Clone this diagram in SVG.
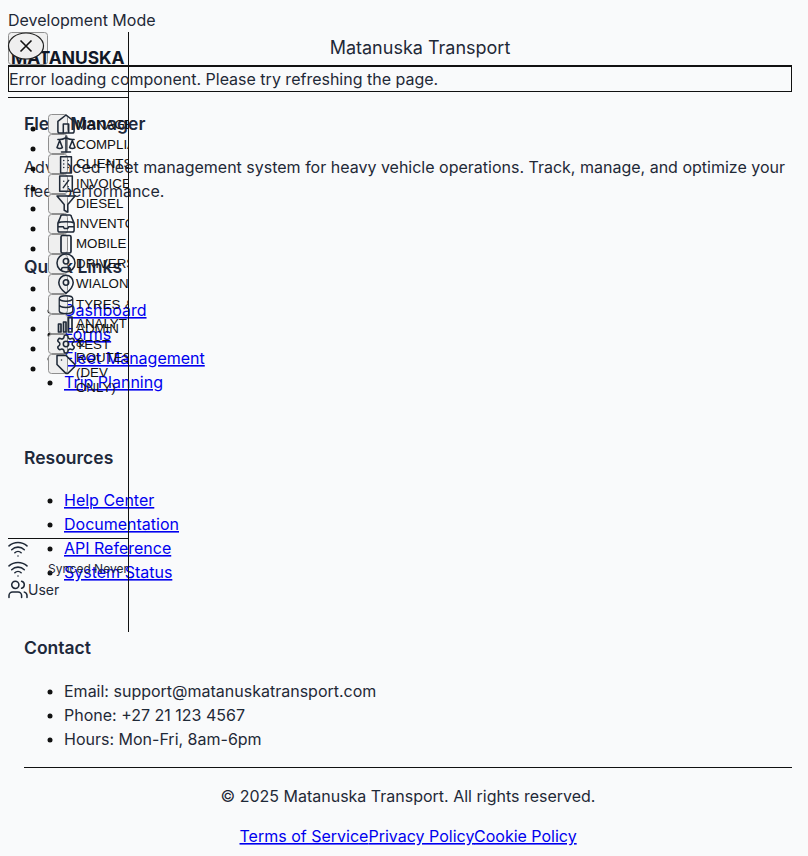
<svg xmlns="http://www.w3.org/2000/svg" width="808" height="856" viewBox="0 0 808 856">
<style>
text{font-family:Inter,"Liberation Sans",sans-serif;font-size:16px;fill:#1f2937}
.h{font-size:17.5px;font-weight:600;fill:#1e293b}
.a{fill:#0000ee;text-decoration:underline}
.n{font-family:"Liberation Sans",Arial,sans-serif;font-size:13.33px;fill:#111}
.b{fill:#efefef;stroke:#8f8f8f;stroke-width:1}
.i{fill:none;stroke:#1f2937;stroke-width:1.7;stroke-linecap:round;stroke-linejoin:round}
.l{stroke:#111;stroke-width:1;fill:none}
</style>
<defs>
<clipPath id="side"><rect x="0" y="0" width="128" height="856"/></clipPath>
<g id="wifi"><path class="i" d="M5 13a10 10 0 0 1 14 0M8.500 16.429a5 5 0 0 1 7 0M2 8.820a15 15 0 0 1 20 0M12 20h.01"/></g>
</defs>
<rect width="808" height="856" fill="#f9fafb"/>
<g id="page-content">
<text x="24" y="130" class="h">Fleet Manager</text>
<text x="24" y="173">Advanced fleet management system for heavy vehicle operations. Track, manage, and optimize your</text>
<text x="24" y="197">fleet performance.</text>
<text x="24" y="273" class="h">Quick Links</text>
<g fill="#111">
<circle cx="33" cy="129" r="2.500"/><circle cx="33" cy="149" r="2.500"/><circle cx="33" cy="169" r="2.500"/><circle cx="33" cy="189" r="2.500"/><circle cx="33" cy="209" r="2.500"/><circle cx="33" cy="229" r="2.500"/><circle cx="33" cy="249" r="2.500"/><circle cx="33" cy="289" r="2.500"/><circle cx="33" cy="309" r="2.500"/><circle cx="33" cy="329" r="2.500"/><circle cx="33" cy="349" r="2.500"/><circle cx="33" cy="369" r="2.500"/>
<circle cx="50" cy="311" r="2.500"/><circle cx="50" cy="335" r="2.500"/><circle cx="50" cy="359" r="2.500"/><circle cx="50" cy="383" r="2.500"/>
<circle cx="50" cy="501" r="2.500"/><circle cx="50" cy="525" r="2.500"/><circle cx="50" cy="549" r="2.500"/><circle cx="50" cy="573" r="2.500"/>
<circle cx="50" cy="692" r="2.500"/><circle cx="50" cy="716" r="2.500"/><circle cx="50" cy="740" r="2.500"/>
</g>
<text x="64" y="316" class="a">Dashboard</text>
<text x="64" y="340" class="a">Forms</text>
<text x="64" y="364" class="a">Fleet Management</text>
<text x="64" y="388" class="a">Trip Planning</text>
<text x="24" y="464" class="h">Resources</text>
<text x="64" y="506" class="a">Help Center</text>
<text x="64" y="530" class="a">Documentation</text>
<text x="64" y="554" class="a">API Reference</text>
<text x="64" y="578" class="a">System Status</text>
<text x="24" y="654" class="h">Contact</text>
<text x="64" y="697">Email: support@matanuskatransport.com</text>
<text x="64" y="721">Phone: +27 21 123 4567</text>
<text x="64" y="745">Hours: Mon-Fri, 8am-6pm</text>
<path class="l" d="M24 767.500H792"/>
<text x="408" y="802" text-anchor="middle">© 2025 Matanuska Transport. All rights reserved.</text>
<text x="239.500" y="842" class="a">Terms of Service</text>
<text x="368.500" y="842" class="a">Privacy Policy</text>
<text x="474" y="842" class="a">Cookie Policy</text>
</g>
<g id="header">
<text x="8" y="26">Development Mode</text>
<text x="420" y="54" text-anchor="middle" style="font-size:18px">Matanuska Transport</text>
</g>
<g id="sidebar">
<path class="l" d="M128.500 32V632M8 97.500H128M8 538.500H128"/>
<g id="close">
<rect x="8.500" y="32.500" width="39" height="32" rx="3" class="b"/>
<text x="11" y="64" style="font-size:17.400px;font-weight:700;fill:#111827">MATANUSKA</text>
<ellipse cx="26" cy="46" rx="17.500" ry="13" fill="#efefef" stroke="#222" stroke-width="1.200"/>
<path d="M20.500 40.500L31.500 51.500M31.500 40.500L20.500 51.500" stroke="#111" stroke-width="1.600" fill="none"/>
</g>
</g>
<g id="error">
<rect x="8.500" y="66.500" width="783" height="25" class="l"/>
<path d="M8 66H792" stroke="#111" stroke-width="2"/>
<text x="9" y="85">Error loading component. Please try refreshing the page.</text>
</g>
<g id="nav" clip-path="url(#side)">
<g id="nav-dashboard"><rect class="b" x="48.500" y="114.500" width="19" height="19" rx="3"/><path class="i" transform="translate(55.200,113.200) scale(.9)" d="M3 9l9-7 9 7v11a2 2 0 0 1-2 2H5a2 2 0 0 1-2-2zM9 22V12h6v10"/><text class="n" x="76" y="128.500">MANAGE</text></g>
<g id="nav-compliance"><rect class="b" x="48.500" y="134.500" width="19" height="19" rx="3"/><path class="i" transform="translate(55.200,133.200) scale(.9)" d="M16 16l3-8 3 8c-.87.650-1.920 1-3 1s-2.130-.350-3-1zM2 16l3-8 3 8c-.87.650-1.920 1-3 1s-2.130-.350-3-1zM7 21h10M12 3v18M3 7h2c2 0 5-1 7-2 2 1 5 2 7 2h2"/><text class="n" x="76" y="148.500">COMPLIANCE</text></g>
<g id="nav-clients"><rect class="b" x="48.500" y="154.500" width="19" height="19" rx="3"/><path class="i" transform="translate(55.200,153.200) scale(.9)" d="M6 4h12v18H6zM9.500 8h.01M14.500 8h.01M9.500 12h.01M14.500 12h.01M9.500 16h.01M14.500 16h.01"/><text class="n" x="76" y="168">CLIENTS</text></g>
<g id="nav-invoices"><rect class="b" x="48.500" y="174.500" width="19" height="19" rx="3"/><path class="i" transform="translate(55.200,173.200) scale(.9)" d="M5 3h14v17H5zM9 16l6-8M9.500 9h.01M14.500 15h.01"/><text class="n" x="76" y="188">INVOICES</text></g>
<g id="nav-diesel"><rect class="b" x="48.500" y="194.500" width="19" height="19" rx="3"/><path class="i" transform="translate(55.200,193.200) scale(.9)" d="M22 3H2l8 9.460V19l4 2v-8.540z"/><text class="n" x="76" y="208">DIESEL</text></g>
<g id="nav-inventory"><rect class="b" x="48.500" y="214.500" width="19" height="19" rx="3"/><path class="i" transform="translate(55.200,213.200) scale(.9)" d="M3 11l3-7a2 2 0 0 1 2-2h8a2 2 0 0 1 2 2l3 7v8a2 2 0 0 1-2 2H5a2 2 0 0 1-2-2zM3 11c3-2 15-2 18 0M3 15h6l1 2h4l1-2h6"/><text class="n" x="76" y="228">INVENTORY</text></g>
<g id="nav-mobile"><rect class="b" x="48.500" y="234.500" width="19" height="19" rx="3"/><rect class="i" x="61" y="235.500" width="10" height="17.500" rx="1.500"/><text class="n" x="76" y="248">MOBILE</text></g>
<g id="nav-drivers"><rect class="b" x="48.500" y="254.500" width="19" height="19" rx="3"/><path class="i" transform="translate(55.200,252.200) scale(.9)" d="M22 12a10 10 0 1 1-20 0 10 10 0 0 1 20 0zM15 10a3 3 0 1 1-6 0 3 3 0 0 1 6 0zM7 20.660V19a2 2 0 0 1 2-2h6a2 2 0 0 1 2 2v1.660"/><text class="n" x="76" y="268">DRIVERS</text></g>
<g id="nav-wialon"><rect class="b" x="48.500" y="274.500" width="19" height="19" rx="3"/><path class="i" transform="translate(55.200,273.500) scale(.9)" d="M20 10c0 6-8 12-8 12s-8-6-8-12a8 8 0 0 1 16 0zM15 10a3 3 0 1 1-6 0 3 3 0 0 1 6 0z"/><text class="n" x="76" y="288">WIALON</text></g>
<g id="nav-tyres"><rect class="b" x="48.500" y="294.500" width="19" height="19" rx="3"/><path class="i" transform="translate(55.200,294) scale(.9) translate(2,0) scale(.833,1)" d="M21 5a9 3 0 1 1-18 0 9 3 0 0 1 18 0zM3 5v14a9 3 0 0 0 18 0V5M3 12a9 3 0 0 0 18 0"/><text class="n" x="76" y="308.500">TYRES</text><text class="n" x="125" y="308.500">&amp;</text></g>
<g id="nav-analytics"><rect class="b" x="48.500" y="314.500" width="19" height="19" rx="3"/><path class="i" stroke-width="1.500" d="M58.500 324h2.500v8h-2.500zM63.500 322h2.500v10h-2.500zM68.500 317h3.500v15h-3.500z"/><text class="n" x="76" y="328">ANALYT</text><text class="n" x="76" y="333">ADMIN</text></g>
<g id="nav-admin"><rect class="b" x="48.500" y="334.500" width="19" height="19" rx="3"/><path class="i" transform="translate(55.200,333.200) scale(.9)" d="M12.220 2h-.44a2 2 0 0 0-2 2v.18a2 2 0 0 1-1 1.730l-.43.25a2 2 0 0 1-2 0l-.15-.08a2 2 0 0 0-2.730.73l-.22.38a2 2 0 0 0 .73 2.730l.15.1a2 2 0 0 1 1 1.720v.51a2 2 0 0 1-1 1.740l-.15.09a2 2 0 0 0-.73 2.730l.22.38a2 2 0 0 0 2.730.73l.15-.08a2 2 0 0 1 2 0l.43.25a2 2 0 0 1 1 1.730V20a2 2 0 0 0 2 2h.44a2 2 0 0 0 2-2v-.18a2 2 0 0 1 1-1.730l.43-.25a2 2 0 0 1 2 0l.15.08a2 2 0 0 0 2.730-.73l.22-.39a2 2 0 0 0-.73-2.730l-.15-.08a2 2 0 0 1-1-1.740v-.5a2 2 0 0 1 1-1.740l.15-.09a2 2 0 0 0 .73-2.730l-.22-.38a2 2 0 0 0-2.730-.73l-.15.08a2 2 0 0 1-2 0l-.43-.25a2 2 0 0 1-1-1.730V4a2 2 0 0 0-2-2zM15 12a3 3 0 1 1-6 0 3 3 0 0 1 6 0z"/><text class="n" x="76" y="347">&amp;</text><text class="n" x="76" y="349">TEST</text></g>
<g id="nav-routes"><rect class="b" x="48.500" y="354.500" width="19" height="19" rx="3"/><path class="i" transform="translate(55.200,353.700) scale(.9)" d="M12 2H2v10l9.290 9.290c.94.94 2.480.94 3.420 0l6.580-6.580c.94-.94.94-2.480 0-3.420zM7 7h.01"/><text class="n" x="76" y="362">ROUTES</text><text class="n" x="76" y="376.500">(DEV</text><text class="n" x="76" y="391.500">ONLY)</text></g>
</g>
<g id="sidebar-footer">
<use href="#wifi" transform="translate(7.200,538) scale(.9)"/>
<use href="#wifi" transform="translate(7.200,558) scale(.9)"/>
<text x="48" y="573" style="font-size:12px">Synced Never</text>
<path class="i" transform="translate(7.200,578.500) scale(.9)" d="M16 21v-2a4 4 0 0 0-4-4H6a4 4 0 0 0-4 4v2M13 7a4 4 0 1 1-8 0 4 4 0 0 1 8 0zM22 21v-2a4 4 0 0 0-3-3.870M16 3.130a4 4 0 0 1 0 7.750"/>
<text x="28" y="595" style="font-size:14px">User</text>
</g>
</svg>
